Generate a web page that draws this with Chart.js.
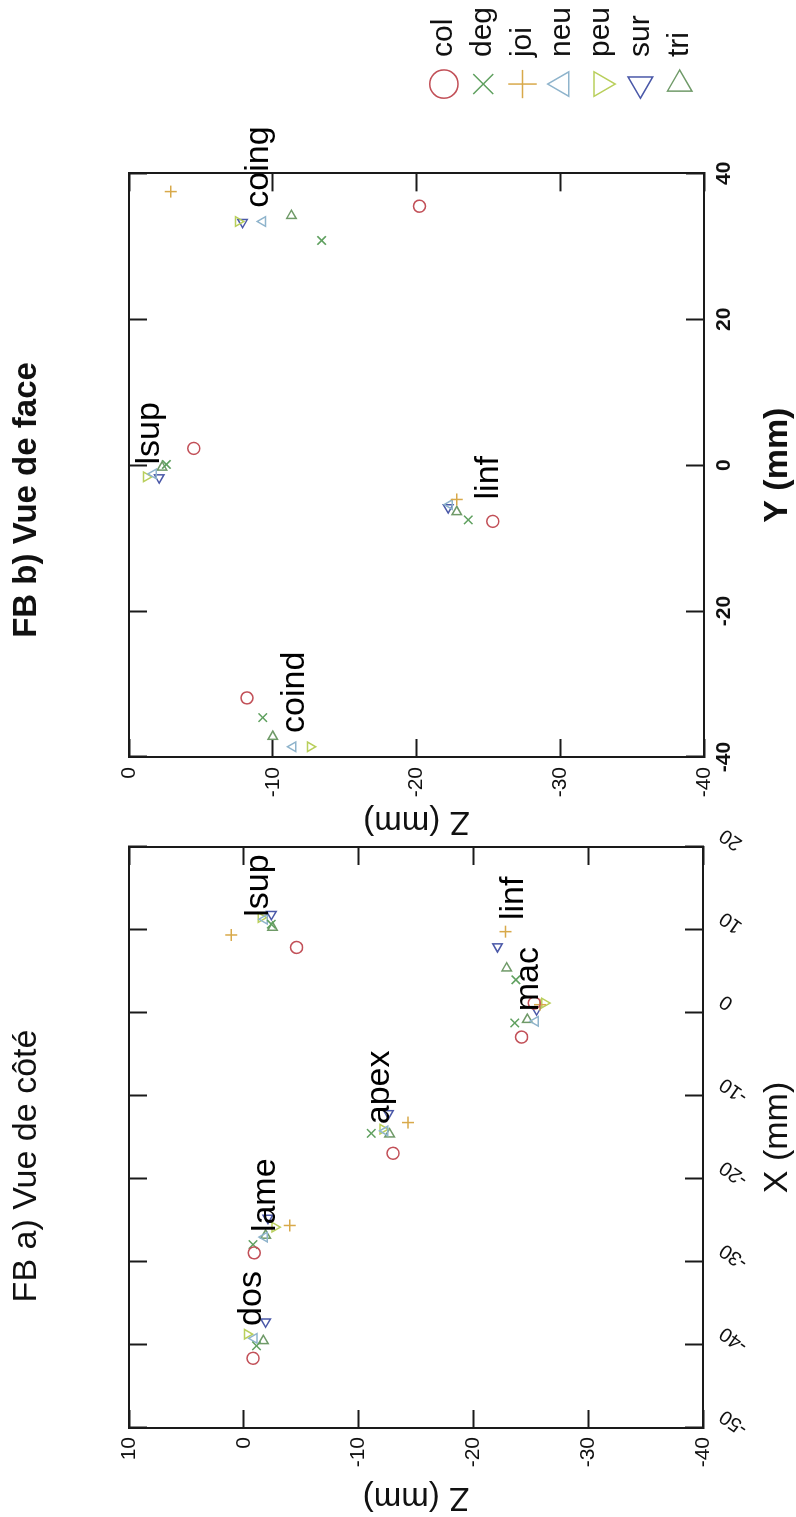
<!DOCTYPE html>
<html>
<head>
<meta charset="utf-8">
<script src="https://cdn.jsdelivr.net/npm/chart.js@4.4.1/dist/chart.umd.min.js"></script>
<style>
  html, body { margin: 0; padding: 0; background: #fff; overflow: hidden; }
  /* the figure is laid out as a landscape page, then turned a quarter to the left */
  #page {
    position: absolute; left: 0; top: 0; width: 1517px; height: 796px;
    transform-origin: 0 0; transform: translateY(1517px) rotate(-90deg);
  }
  #sideChart { position: absolute; left: 0; top: 0; }
  #faceChart { position: absolute; left: 676px; top: 0; }
</style>
</head>
<body>
<div id="page">
  <canvas id="sideChart" width="700" height="796"></canvas>
  <canvas id="faceChart" width="844" height="796"></canvas>
</div>
<script>
// series (subjects) and their markers
const seriesNames = ["col", "deg", "joi", "neu", "peu", "sur", "tri"];
const seriesColors = ["#c25058", "#5fa05f", "#d8a94a", "#8fb4cc", "#b9cf5c", "#4a58a8", "#6f9a68"];

// a) side view: X (mm) and Z (mm) per landmark
const sideLandmarks = ["dos", "lame", "apex", "mac", "linf", "lsup"];
const colSideX = [-41.6, -28.9, -16.9, -2.9, 1.2, 7.9];
const colSideZ = [-0.8, -0.9, -13.0, -24.2, -25.3, -4.6];
const degSideX = [-40.1, -27.9, -14.5, -1.2, 4.0, 10.7];
const degSideZ = [-1.1, -0.8, -11.1, -23.6, -23.7, -2.4];
const joiSideX = [null, -25.6, -13.2, 1.0, 9.8, 9.4];
const joiSideZ = [null, -4.0, -14.3, -25.8, -22.8, 1.1];
const neuSideX = [-39.2, -27.0, -14.2, -1.0, null, 11.3];
const neuSideZ = [-0.9, -1.8, -12.3, -25.4, null, -1.8];
const peuSideX = [-38.7, -25.8, -14.0, 1.2, null, 11.5];
const peuSideZ = [-0.3, -2.7, -12.1, -26.2, null, -1.5];
const surSideX = [-37.2, -24.7, -12.1, 0.4, 8.0, 11.9];
const surSideZ = [-1.9, -2.1, -12.6, -25.5, -22.1, -2.4];
const triSideX = [-39.5, -26.8, -14.6, -0.8, 5.4, 10.3];
const triSideZ = [-1.7, -1.9, -12.7, -24.7, -22.9, -2.5];
const sideLabelX = [-37.7, -26.4, -13.4, 0.2, 11.2, 11.6];
const sideLabelZ = [-0.7, -1.9, -11.8, -24.8, -23.5, -1.3];

// b) front view: Y (mm) and Z (mm) per landmark
const faceLandmarks = ["coind", "lsup", "linf", "coing"];
const colFaceY = [-31.9, 2.3, -7.7, 35.5];
const colFaceZ = [-8.2, -4.5, -25.3, -20.2];
const degFaceY = [-34.6, 0.1, -7.5, 30.8];
const degFaceZ = [-9.3, -2.6, -23.6, -13.4];
const joiFaceY = [null, null, -4.7, 37.5];
const joiFaceZ = [null, null, -22.8, -2.9];
const neuFaceY = [-38.6, -1.2, -5.4, 33.4];
const neuFaceZ = [-11.4, -1.7, -22.3, -9.3];
const peuFaceY = [-38.6, -1.6, null, 33.4];
const peuFaceZ = [-12.6, -1.2, null, -7.6];
const surFaceY = [null, -1.7, -5.8, 33.3];
const surFaceZ = [null, -2.1, -22.2, -7.9];
const triFaceY = [-37.2, -0.3, -6.4, 34.2];
const triFaceZ = [-10.0, -2.3, -22.8, -11.3];
const faceLabelY = [-36.7, 0.1, -4.7, 35.3];
const faceLabelZ = [-11.5, -1.4, -25.0, -9.0];

// axis ticks
const sideXTicks = { min: -50, max: 20, step: 10 };
const sideZTicks = { min: -40, max: 10, step: 10 };
const faceYTicks = { min: -40, max: 40, step: 20 };
const faceZTicks = { min: -40, max: 0, step: 10 };

const sideXs = [colSideX, degSideX, joiSideX, neuSideX, peuSideX, surSideX, triSideX];
const sideZs = [colSideZ, degSideZ, joiSideZ, neuSideZ, peuSideZ, surSideZ, triSideZ];
const faceYs = [colFaceY, degFaceY, joiFaceY, neuFaceY, peuFaceY, surFaceY, triFaceY];
const faceZs = [colFaceZ, degFaceZ, joiFaceZ, neuFaceZ, peuFaceZ, surFaceZ, triFaceZ];

const FONT = "'Liberation Sans', Arial, Helvetica, sans-serif";
Chart.defaults.font.family = FONT;
Chart.defaults.color = "#111";

// marker shape for each series
const styles = [
  { pointStyle: "circle", rotation: 0, radius: 6 },
  { pointStyle: "crossRot", rotation: 0, radius: 6 },
  { pointStyle: "cross", rotation: 0, radius: 6 },
  { pointStyle: "triangle", rotation: 0, radius: 5.5 },
  { pointStyle: "triangle", rotation: 180, radius: 5.5 },
  { pointStyle: "triangle", rotation: 270, radius: 5.5 },
  { pointStyle: "triangle", rotation: 90, radius: 5.5 }
];

function makeDatasets(xsList, ysList) {
  return seriesNames.map((name, i) => ({
    label: name,
    data: xsList[i].map((x, k) => ({ x: x, y: ysList[i][k] })),
    pointStyle: styles[i].pointStyle,
    rotation: styles[i].rotation,
    pointRadius: styles[i].radius,
    borderColor: seriesColors[i],
    backgroundColor: "rgba(0,0,0,0)",
    pointBorderWidth: 1.5,
    borderWidth: 1.5
  }));
}

// frame with inward ticks on all four sides
const edge = { color: "#1a1a1a", width: 2 };
function frameGrid() {
  return { display: true, drawOnChartArea: false, drawTicks: true, tickLength: -18, tickWidth: 2, tickColor: edge.color };
}
function mirrorAxis(axis, position, t, size) {
  return {
    type: "linear", axis: axis, position: position, min: t.min, max: t.max,
    ticks: { display: false, stepSize: t.step },
    grid: frameGrid(),
    border: { display: true, color: edge.color, width: edge.width },
    afterFit: (s) => { if (axis === "x") s.height = size; else s.width = size; }
  };
}

// panel title drawn at a fixed spot above the axes
const panelTitle = {
  id: "panelTitle",
  afterDraw(chart, args, opts) {
    const ctx = chart.ctx;
    ctx.save();
    ctx.font = opts.font;
    ctx.fillStyle = "#111";
    ctx.textAlign = "center";
    ctx.textBaseline = "middle";
    ctx.fillText(opts.text, opts.x, opts.y);
    ctx.restore();
  }
};

// landmark names written next to their clusters
const landmarkText = {
  id: "landmarkText",
  afterDatasetsDraw(chart, args, opts) {
    const ctx = chart.ctx;
    const xs = chart.scales.x, ys = chart.scales.y;
    ctx.save();
    ctx.font = "34px " + FONT;
    ctx.fillStyle = "#000";
    ctx.textAlign = "left";
    ctx.textBaseline = "middle";
    opts.names.forEach((n, i) => {
      ctx.fillText(n, xs.getPixelForValue(opts.xs[i]), ys.getPixelForValue(opts.ys[i]));
    });
    ctx.restore();
  }
};

// a) Vue de côté
new Chart(document.getElementById("sideChart"), {
  type: "scatter",
  data: { datasets: makeDatasets(sideXs, sideZs) },
  plugins: [panelTitle, landmarkText],
  options: {
    responsive: false,
    animation: false,
    events: [],
    layout: { padding: { top: 129, right: 30, bottom: 0, left: 0 } },
    plugins: {
      legend: { display: false },
      tooltip: { enabled: false },
      panelTitle: { text: "FB a) Vue de côté", font: "34px " + FONT, x: 351, y: 27 },
      landmarkText: { names: sideLandmarks, xs: sideLabelX, ys: sideLabelZ }
    },
    scales: {
      x: {
        type: "linear", position: "bottom", min: sideXTicks.min, max: sideXTicks.max,
        ticks: { stepSize: sideXTicks.step, font: { size: 20 }, minRotation: 55, maxRotation: 55, padding: 30, labelOffset: 14 },
        grid: frameGrid(),
        border: { display: true, color: edge.color, width: edge.width },
        title: { display: true, text: "X (mm)", font: { size: 34, lineHeight: 1.1 }, padding: 0 },
        afterFit: (s) => { s.height = 93; s.paddingLeft = 0; s.paddingRight = 0; }
      },
      y: {
        type: "linear", position: "left", min: sideZTicks.min, max: sideZTicks.max,
        ticks: { stepSize: sideZTicks.step, font: { size: 21 }, padding: 27 },
        grid: frameGrid(),
        border: { display: true, color: edge.color, width: edge.width },
        title: { display: true, text: "Z (mm)", font: { size: 33 }, padding: 0 },
        afterFit: (s) => { s.width = 89; }
      },
      x2: mirrorAxis("x", "top", sideXTicks, 0),
      y2: mirrorAxis("y", "right", sideZTicks, 0)
    }
  }
});

// b) Vue de face
new Chart(document.getElementById("faceChart"), {
  type: "scatter",
  data: { datasets: makeDatasets(faceYs, faceZs) },
  plugins: [panelTitle, landmarkText],
  options: {
    responsive: false,
    animation: false,
    events: [],
    layout: { padding: { top: 129, right: 0, bottom: 0, left: 0 } },
    plugins: {
      legend: {
        display: true, position: "right", align: "end", fullSize: false,
        labels: { usePointStyle: true, boxWidth: 24, boxHeight: 20, padding: 9.3, font: { size: 30 }, color: "#111" }
      },
      tooltip: { enabled: false },
      panelTitle: { text: "FB b) Vue de face", font: "bold 33px " + FONT, x: 341, y: 27 },
      landmarkText: { names: faceLandmarks, xs: faceLabelY, ys: faceLabelZ }
    },
    scales: {
      x: {
        type: "linear", position: "bottom", min: faceYTicks.min, max: faceYTicks.max,
        ticks: { stepSize: faceYTicks.step, font: { size: 21, weight: "bold" }, padding: 26 },
        grid: frameGrid(),
        border: { display: true, color: edge.color, width: edge.width },
        title: { display: true, text: "Y (mm)", font: { size: 34, weight: "bold", lineHeight: 1.1 }, padding: 0 },
        afterFit: (s) => { s.height = 92; }
      },
      y: {
        type: "linear", position: "left", min: faceZTicks.min, max: faceZTicks.max,
        ticks: { stepSize: faceZTicks.step, font: { size: 21 }, padding: 28 },
        grid: frameGrid(),
        border: { display: true, color: edge.color, width: edge.width },
        title: { display: true, text: "Z (mm)", font: { size: 33 }, padding: 0 },
        afterFit: (s) => { s.width = 84; }
      },
      x2: mirrorAxis("x", "top", faceYTicks, 0),
      y2: mirrorAxis("y", "right", faceZTicks, 68)
    }
  }
});
</script>
</body>
</html>
